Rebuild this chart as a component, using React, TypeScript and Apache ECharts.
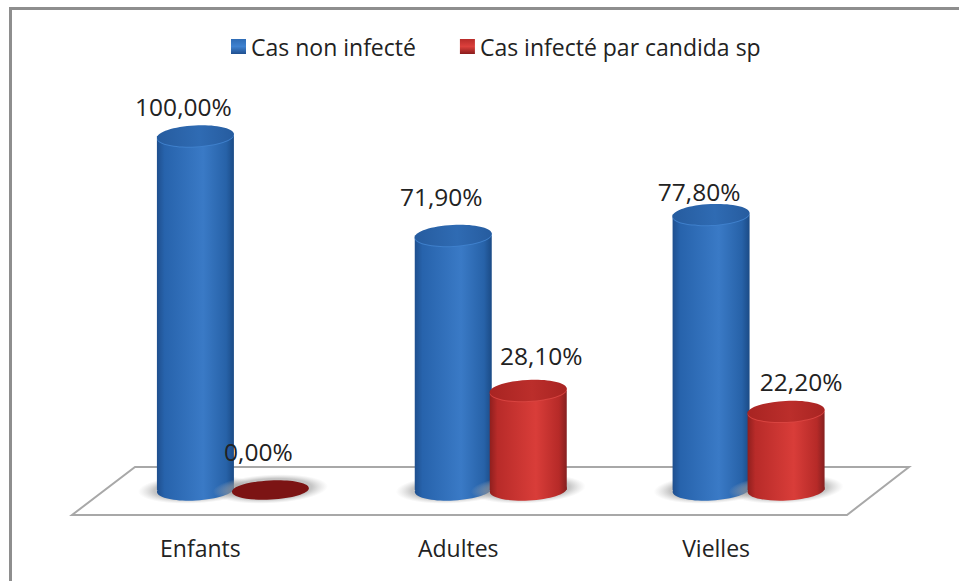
import React, { useEffect, useRef } from "react";
import * as echarts from "echarts";

const categories = ["Enfants", "Adultes", "Vielles"];
const healthyName = "Cas non infecté";
const infectedName = "Cas infecté par candida sp";
const healthyValues = [100, 71.9, 77.8];
const infectedValues = [0, 28.1, 22.2];
const valueTicks = [0, 20, 40, 60, 80, 100];

// Hand-placed label nudges per category, relative to the cylinder's top centre.
const healthyLabelNudge = [[-12, -30], [-12, -39], [-12, -23]];
const infectedLabelNudge = [[-12, -39], [13, -35], [15, -30]];

const RX = 38.5;
const RY = 10.5;
const TILT = 0.05;

const blueSide = [
  [0, "#1f4f8e"], [0.1, "#2763ac"], [0.6, "#3a7ac6"], [0.9, "#2762a8"], [1, "#1b4b86"],
];
const redSide = [
  [0, "#8f1f1e"], [0.1, "#b82b29"], [0.6, "#d93d39"], [0.9, "#b62a28"], [1, "#862020"],
];

const stops = (list: any[]) => list.map(([offset, color]) => ({ offset, color }));
const sideFill = (list: any[]) => new echarts.graphic.LinearGradient(0, 0, 1, 0, stops(list));
const pct = (v: number) => v.toFixed(2).replace(".", ",") + "%";

const shadowFill = new echarts.graphic.RadialGradient(0.5, 0.5, 0.5, [
  { offset: 0, color: "rgba(150,150,150,0.75)" },
  { offset: 0.72, color: "rgba(160,160,160,0.6)" },
  { offset: 1, color: "rgba(190,190,190,0)" },
]);

function cylinderSeries(
  name: string,
  values: number[],
  shift: number,
  side: any[],
  capDark: string,
  capMid: string,
  rim: string,
  flat: string,
  nudges: number[][],
  legendColor: any
) {
  return {
    type: "custom",
    name,
    coordinateSystem: "cartesian2d",
    data: values.map((v, i) => [i, v]),
    itemStyle: { color: legendColor },
    clip: false,
    encode: { x: 0, y: 1 },
    renderItem: (params: any, api: any) => {
      const i = api.value(0);
      const v = api.value(1);
      const [cx, topY] = api.coord([i, v]);
      const [, baseY] = api.coord([i, 0]);
      const x = cx + shift;
      const nudge = nudges[params.dataIndex];
      const ellipse = (y: number, rx: number, ry: number, fill: any) => ({
        type: "ellipse",
        x,
        y,
        rotation: TILT,
        shape: { cx: 0, cy: 0, rx, ry },
        style: { fill },
      });
      const shapes: any[] = [ellipse(baseY - 1, RX + 19, RY + 4, shadowFill)];
      if (v === 0) {
        shapes.push(ellipse(baseY, RX, RY - 1, flat));
      } else {
        shapes.push(ellipse(baseY, RX, RY, sideFill(side)));
        shapes.push({
          type: "rect",
          shape: { x: x - RX, y: topY, width: RX * 2, height: baseY - topY },
          style: { fill: sideFill(side) },
        });
        shapes.push(ellipse(topY + 1, RX, RY, rim));
        shapes.push(
          ellipse(
            topY,
            RX,
            RY,
            new echarts.graphic.LinearGradient(0, 0, 1, 0, [
              { offset: 0, color: capDark },
              { offset: 0.55, color: capMid },
              { offset: 1, color: capDark },
            ])
          )
        );
      }
      shapes.push({
        type: "text",
        x: x + nudge[0],
        y: topY + nudge[1],
        style: {
          text: pct(v),
          fill: "#222",
          font: '24.5px "Open Sans", sans-serif',
          align: "center",
          verticalAlign: "middle",
        },
      });
      return { type: "group", children: shapes };
    },
  };
}

export default function App() {
  const ref = useRef<HTMLDivElement>(null);

  useEffect(() => {
    const chart = echarts.init(ref.current!, null, { renderer: "svg" });
    chart.setOption({
      animation: false,
      backgroundColor: "#fff",
      grid: { left: 71.5, right: 959 - 845, top: 136, bottom: 581 - 490 },
      legend: {
        top: 30,
        left: 226,
        itemWidth: 15,
        itemHeight: 15,
        itemGap: 44,
        icon: "rect",
        textStyle: { fontFamily: "Open Sans", fontSize: 23, color: "#222" },
      },
      xAxis: {
        type: "category",
        data: categories,
        axisLine: { show: false },
        axisTick: { show: false },
        axisLabel: {
          margin: 46,
          fontFamily: "Open Sans",
          fontSize: 23,
          color: "#222",
        },
      },
      yAxis: {
        type: "value",
        min: valueTicks[0],
        max: valueTicks[valueTicks.length - 1],
        interval: 20,
        show: false,
      },
      graphic: [
        {
          type: "polyline",
          z: -2,
          shape: { points: [[10.5, 590], [10.5, 8.5], [970, 8.5]] },
          style: { fill: "none", stroke: "#8e8e8e", lineWidth: 3 },
        },
        {
          type: "polygon",
          z: -1,
          shape: { points: [[72, 515], [847, 515], [909, 467], [135, 467]] },
          style: { fill: "#fff", stroke: "#a8a8a8", lineWidth: 2 },
        },
      ],
      series: [
        cylinderSeries(healthyName, healthyValues, -5, blueSide, "#265c9f", "#2f6bb3", "#3f80cc", "#1c4a86", healthyLabelNudge,
          new echarts.graphic.LinearGradient(0, 0, 0, 1, [
            { offset: 0, color: "#2f6cb5" }, { offset: 0.5, color: "#3f82d0" }, { offset: 1, color: "#1f4f8f" },
          ])),
        cylinderSeries(infectedName, infectedValues, 70, redSide, "#a82422", "#bb2e2b", "#d94440", "#7c1414", infectedLabelNudge,
          new echarts.graphic.LinearGradient(0, 0, 0, 1, [
            { offset: 0, color: "#b82c2a" }, { offset: 0.5, color: "#dc403c" }, { offset: 1, color: "#8a1c1c" },
          ])),
      ],
    });
    return () => chart.dispose();
  }, []);

  return <div ref={ref} style={{ position: "fixed", left: 0, top: 0, width: 959, height: 581 }} />;
}
